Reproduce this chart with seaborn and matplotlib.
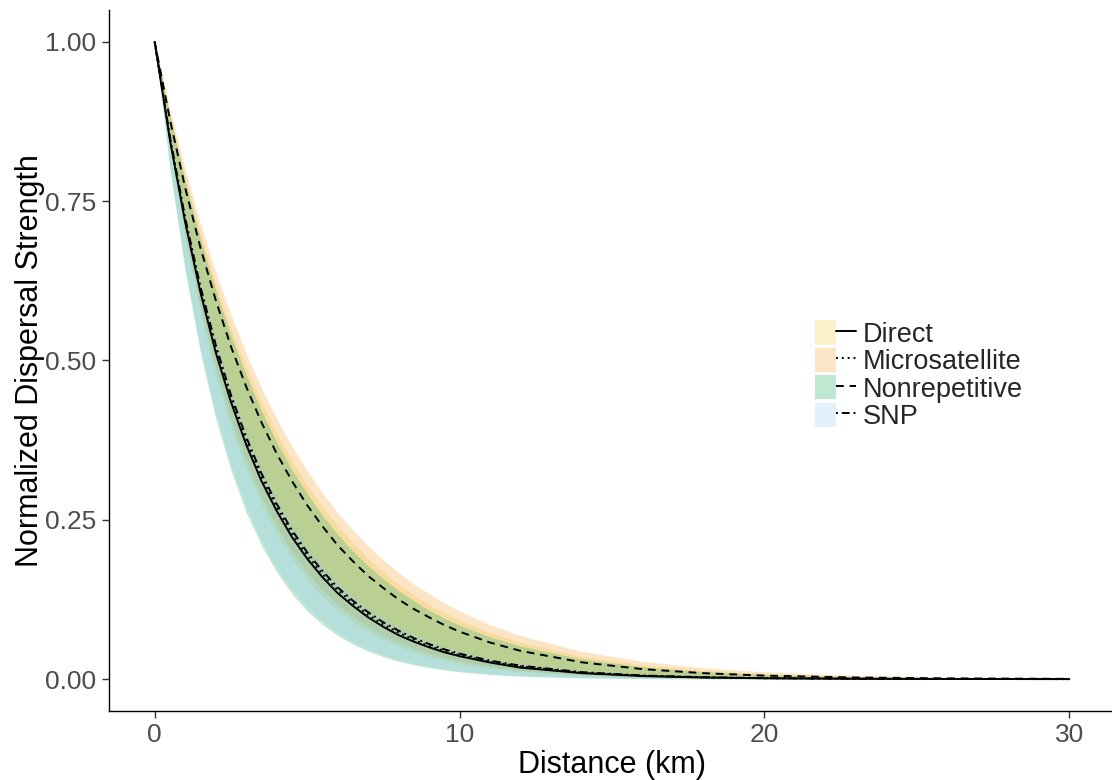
import numpy as np
import pandas as pd
import matplotlib
matplotlib.use("Agg")
import matplotlib.pyplot as plt
from matplotlib.patches import Patch
from matplotlib.lines import Line2D
from matplotlib.legend_handler import HandlerTuple
import seaborn as sns

# ---- data ----
distance = [0, 0.5, 1, 1.5, 2, 2.5, 3, 3.5, 4, 4.5, 5, 5.5, 6, 6.5, 7, 7.5, 8, 8.5, 9, 9.5,
            10, 11, 12, 14, 16, 18, 20, 23, 26, 30]

direct_mean = [1, 0.846, 0.717, 0.607, 0.513, 0.435, 0.368, 0.311, 0.264, 0.223, 0.189, 0.160, 0.135, 0.115,
               0.097, 0.082, 0.069, 0.0588, 0.050, 0.0421,
               0.036, 0.026, 0.018, 0.0094, 0.0048, 0.0025, 0.0013, 0.0005, 0.0002, 0.0]
direct_lo = [1, 0.831, 0.690, 0.574, 0.477, 0.396, 0.329, 0.274, 0.227, 0.189, 0.157, 0.130, 0.108, 0.0901,
             0.0748, 0.0622, 0.0517, 0.0429, 0.0357, 0.0297,
             0.0246, 0.0170, 0.0117, 0.0056, 0.0027, 0.0013, 0.0006, 0.0002, 0.0001, 0.0]
direct_hi = [1, 0.888, 0.788, 0.700, 0.621, 0.551, 0.490, 0.435, 0.386, 0.343, 0.304, 0.270, 0.240, 0.213,
             0.189, 0.168, 0.149, 0.132, 0.117, 0.104,
             0.0925, 0.0729, 0.0574, 0.0357, 0.0222, 0.0138, 0.0086, 0.0042, 0.0020, 0.0008]

micro_mean = [1, 0.848, 0.720, 0.612, 0.519, 0.440, 0.374, 0.317, 0.270, 0.229, 0.194, 0.165, 0.140, 0.119,
              0.101, 0.0855, 0.073, 0.0616, 0.052, 0.0444,
              0.038, 0.027, 0.020, 0.010, 0.0053, 0.0027, 0.0014, 0.0005, 0.0002, 0.0]
micro_lo = [1, 0.836, 0.700, 0.585, 0.490, 0.409, 0.343, 0.287, 0.240, 0.200, 0.168, 0.140, 0.117, 0.0982,
            0.082, 0.0687, 0.0574, 0.0481, 0.0402, 0.0336,
            0.0281, 0.0197, 0.0138, 0.0067, 0.0033, 0.0016, 0.0008, 0.0003, 0.0001, 0.0]
micro_hi = [1, 0.894, 0.800, 0.715, 0.639, 0.572, 0.511, 0.457, 0.409, 0.365, 0.327, 0.292, 0.261, 0.234,
            0.209, 0.187, 0.167, 0.149, 0.134, 0.119,
            0.107, 0.0854, 0.0683, 0.0436, 0.0279, 0.0178, 0.0114, 0.0058, 0.0030, 0.0012]

nonrep_mean = [1, 0.878, 0.771, 0.677, 0.595, 0.522, 0.459, 0.403, 0.354, 0.311, 0.273, 0.240, 0.210, 0.185,
               0.162, 0.143, 0.125, 0.110, 0.097, 0.0848,
               0.0745, 0.0574, 0.0443, 0.0264, 0.0157, 0.0093, 0.0055, 0.0025, 0.0012, 0.0004]
nonrep_lo = [1, 0.800, 0.640, 0.512, 0.409, 0.328, 0.262, 0.210, 0.168, 0.134, 0.107, 0.0858, 0.0687, 0.0549,
             0.0439, 0.0351, 0.0281, 0.0225, 0.0180, 0.0144,
             0.0115, 0.0074, 0.0047, 0.0019, 0.0008, 0.0003, 0.0001, 0.0, 0.0, 0.0]
nonrep_hi = [1, 0.884, 0.781, 0.690, 0.610, 0.539, 0.477, 0.421, 0.372, 0.329, 0.291, 0.257, 0.227, 0.201,
             0.178, 0.157, 0.139, 0.123, 0.108, 0.0958,
             0.0847, 0.0661, 0.0517, 0.0315, 0.0192, 0.0117, 0.0072, 0.0034, 0.0016, 0.0006]

snp_mean = [1, 0.851, 0.724, 0.616, 0.525, 0.446, 0.380, 0.323, 0.275, 0.234, 0.199, 0.170, 0.144, 0.123,
            0.105, 0.0890, 0.076, 0.0644, 0.055, 0.0467,
            0.040, 0.029, 0.021, 0.011, 0.0057, 0.0030, 0.0016, 0.0006, 0.0002, 0.0001]
snp_lo = [1, 0.805, 0.647, 0.521, 0.419, 0.337, 0.271, 0.218, 0.176, 0.141, 0.114, 0.0915, 0.0736, 0.0593,
          0.0477, 0.0384, 0.0309, 0.0248, 0.0200, 0.0161,
          0.0129, 0.0084, 0.0054, 0.0023, 0.0010, 0.0004, 0.0002, 0.0, 0.0, 0.0]
snp_hi = [1, 0.855, 0.730, 0.624, 0.534, 0.456, 0.390, 0.334, 0.286, 0.244, 0.209, 0.179, 0.153, 0.131,
          0.112, 0.0955, 0.082, 0.0700, 0.060, 0.0512,
          0.044, 0.032, 0.024, 0.013, 0.0069, 0.0037, 0.0020, 0.0008, 0.0003, 0.0001]

methods = ["Direct", "Microsatellite", "Nonrepetitive", "SNP"]

# ---- styles ----
fills = {"Direct": "#F4D350", "Microsatellite": "#F4AA3C", "Nonrepetitive": "#3DB878", "SNP": "#9ACDF0"}
dashes = {"Direct": "-", "Microsatellite": (0, (1, 2)), "Nonrepetitive": (0, (4, 3)), "SNP": (0, (1, 2, 4, 2))}
alphas = {"Direct": 0.3, "Microsatellite": 0.3, "Nonrepetitive": 0.33, "SNP": 0.28}

frames = []
for m, mean, lo, hi in [("Direct", direct_mean, direct_lo, direct_hi),
                        ("Microsatellite", micro_mean, micro_lo, micro_hi),
                        ("Nonrepetitive", nonrep_mean, nonrep_lo, nonrep_hi),
                        ("SNP", snp_mean, snp_lo, snp_hi)]:
    frames.append(pd.DataFrame({"distance": distance, "mean": mean, "lo": lo, "hi": hi, "method": m}))
df = pd.concat(frames, ignore_index=True)

sns.set_theme(style="ticks")
plt.rcParams["font.family"] = ["Liberation Sans", "DejaVu Sans"]

fig = plt.figure(figsize=(11.12, 7.8), dpi=100)
ax = fig.add_axes([0.098, 0.0885, 0.9047, 0.8987])

for m in methods:
    d = df[df.method == m]
    ax.fill_between(d["distance"], d["lo"], d["hi"], color=fills[m], alpha=alphas[m], linewidth=0)
for m in methods:
    d = df[df.method == m]
    sns.lineplot(data=d, x="distance", y="mean", ax=ax, color="black", linestyle=dashes[m],
                 linewidth=1.4, legend=False, estimator=None)

ax.set_xlim(-1.5, 31.5)
ax.set_ylim(-0.05, 1.05)
ax.set_xticks([0, 10, 20, 30])
ax.set_yticks([0, 0.25, 0.5, 0.75, 1.0])
ax.set_yticklabels(["0.00", "0.25", "0.50", "0.75", "1.00"])
ax.tick_params(axis="both", labelsize=19, labelcolor="#4D4D4D", color="#333333", length=5, width=1, pad=4)
ax.set_xlabel("Distance (km)", fontsize=22, color="black", labelpad=2)
ax.set_ylabel("Normalized Dispersal Strength", fontsize=22, color="black", labelpad=0)
for s in ["top", "right"]:
    ax.spines[s].set_visible(False)
for s in ["left", "bottom"]:
    ax.spines[s].set_color("black")
    ax.spines[s].set_linewidth(1.0)

handles = []
for m in methods:
    p = Patch(facecolor=fills[m], alpha=alphas[m], edgecolor="none")
    l = Line2D([0], [0], color="black", linestyle=dashes[m], linewidth=1.4)
    handles.append((p, l))
leg = ax.legend(handles, methods, handler_map={tuple: HandlerTuple(ndivide=None, pad=0)},
                loc="center left", bbox_to_anchor=(0.702, 0.479), frameon=False, fontsize=19.5,
                handlelength=1.5, handleheight=1.0, handletextpad=0.25, labelspacing=0.0,
                borderaxespad=0, borderpad=0)

fig.savefig("out.png", dpi=100)
